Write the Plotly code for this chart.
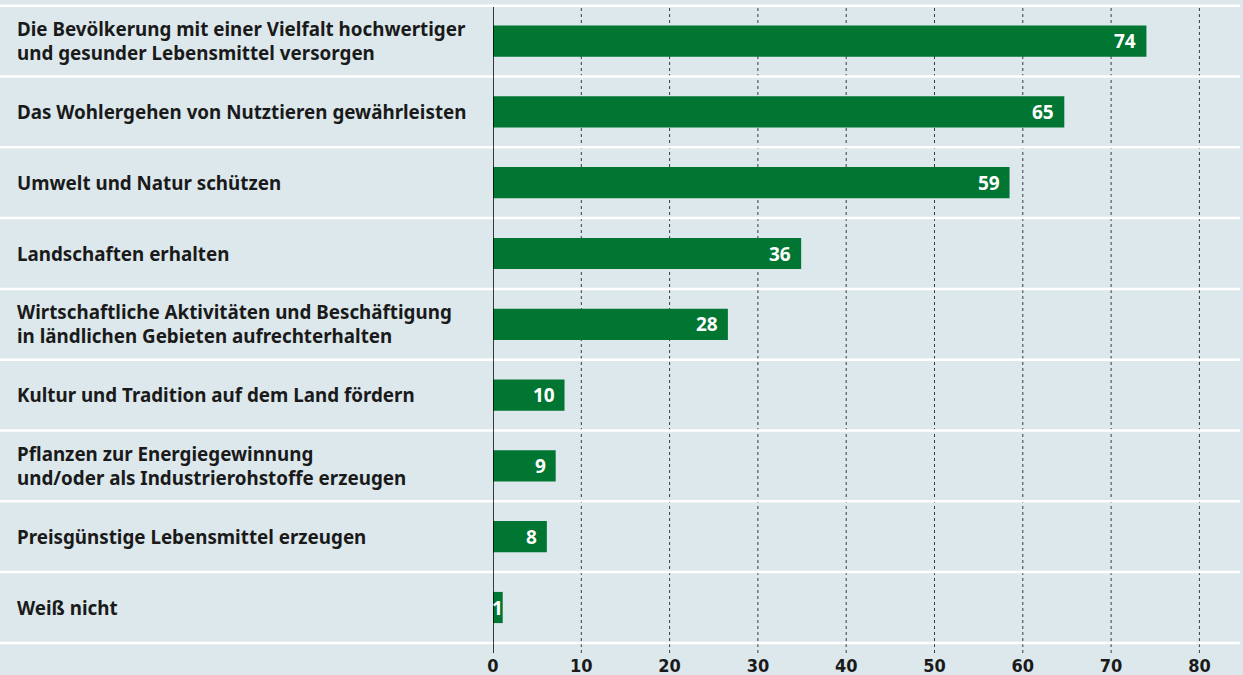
import plotly.graph_objects as go

# Data
categories = [
    "Die Bevölkerung mit einer Vielfalt hochwertiger<br>und gesunder Lebensmittel versorgen",
    "Das Wohlergehen von Nutztieren gewährleisten",
    "Umwelt und Natur schützen",
    "Landschaften erhalten",
    "Wirtschaftliche Aktivitäten und Beschäftigung<br>in ländlichen Gebieten aufrechterhalten",
    "Kultur und Tradition auf dem Land fördern",
    "Pflanzen zur Energiegewinnung<br>und/oder als Industrierohstoffe erzeugen",
    "Preisgünstige Lebensmittel erzeugen",
    "Weiß nicht",
]
# bar lengths as drawn in the picture
bar_lengths = [74.0, 64.7, 58.5, 34.9, 26.6, 8.1, 7.1, 6.1, 1.1]
# printed value labels
value_labels = ["74", "65", "59", "36", "28", "10", "9", "8", "1"]
tick_values = [0, 10, 20, 30, 40, 50, 60, 70, 80]
tick_labels = ["0", "10", "20", "30", "40", "50", "60", "70", "80"]

BG = "#dce8ec"
GREEN = "#007632"
TEXT = "#1a1a1a"
LABEL_FONT = "Noto Sans"
NUM_FONT = "Liberation Sans Narrow, DejaVu Sans Condensed, sans-serif"

W, H = 1243, 675
L, R, T, B = 493, 3, 7, 22
PX_PER_UNIT = 8.83
ROW_PX = 70.8
plot_w = W - L - R
plot_h = H - T - B
n = len(categories)
ypos = list(range(n))
# plot area starts 7 px from the top, 1.3 px below the top separator (at 5.7 px)
y_top = -0.5 + 1.3 / ROW_PX
y_bottom = y_top + plot_h / ROW_PX


def to_paper(yv):
    return (y_bottom - yv) / (y_bottom - y_top)


fig = go.Figure()
fig.add_trace(go.Bar(
    x=bar_lengths,
    y=ypos,
    orientation="h",
    marker=dict(color=GREEN, line=dict(width=0)),
    width=0.44,
    hoverinfo="skip",
))

shapes = []
# dotted vertical gridlines
for tv in tick_values[1:]:
    shapes.append(dict(
        type="line", xref="x", yref="paper", x0=tv, x1=tv, y0=0, y1=1,
        line=dict(color="#3a3a3a", width=1, dash="dot"), layer="below",
    ))
# white row separators spanning full width (drawn as thin bands)
half = 1.25 / ROW_PX
for k in range(n + 1):
    shapes.append(dict(
        type="rect", xref="paper", yref="paper",
        x0=-L / plot_w, x1=1.0,
        y0=to_paper(k - 0.5 - half), y1=to_paper(k - 0.5 + half),
        fillcolor="white", line=dict(width=0),
        layer="above" if k == 0 else "between",
    ))
# zero axis line
shapes.append(dict(
    type="line", xref="x", yref="paper", x0=0, x1=0, y0=0, y1=1,
    line=dict(color="black", width=1.5), layer="above",
))

annotations = []
for i, c in enumerate(categories):
    annotations.append(dict(
        text=c, xref="paper", yref="y", x=-(L - 15) / plot_w, y=i,
        xanchor="left", yanchor="middle", align="left", showarrow=False,
        font=dict(family=LABEL_FONT, size=18.8, color=TEXT, weight=700),
    ))
# value labels inside bar ends (centred when the bar is too short)
for i, (v, lab) in enumerate(zip(bar_lengths, value_labels)):
    fits = v * PX_PER_UNIT > 12 * len(lab) + 10
    annotations.append(dict(
        text=lab, xref="x", yref="y",
        x=v if fits else v / 2, y=i,
        xanchor="right" if fits else "center", xshift=-8 if fits else 0,
        yanchor="middle", showarrow=False,
        font=dict(family=LABEL_FONT, size=19, color="white", weight=700),
    ))

fig.update_layout(
    width=W, height=H,
    margin=dict(l=L, r=R, t=T, b=B, pad=0, autoexpand=False),
    paper_bgcolor=BG, plot_bgcolor=BG,
    showlegend=False,
    shapes=shapes,
    annotations=annotations,
    xaxis=dict(
        range=[0, plot_w / PX_PER_UNIT],
        tickvals=tick_values, ticktext=["<b>%s</b>" % t for t in tick_labels],
        showgrid=False, zeroline=False, showline=False, ticks="",
        ticklabelstandoff=0, automargin=False,
        tickfont=dict(family=NUM_FONT, size=18, color=TEXT),
        fixedrange=True,
    ),
    yaxis=dict(
        range=[y_bottom, y_top], automargin=False,
        showticklabels=False, showgrid=False, zeroline=False, showline=False,
        fixedrange=True,
    ),
)

fig.write_html(
    "out.html",
    config={"displayModeBar": False},
    post_script="document.body.style.margin='0px';",
)
